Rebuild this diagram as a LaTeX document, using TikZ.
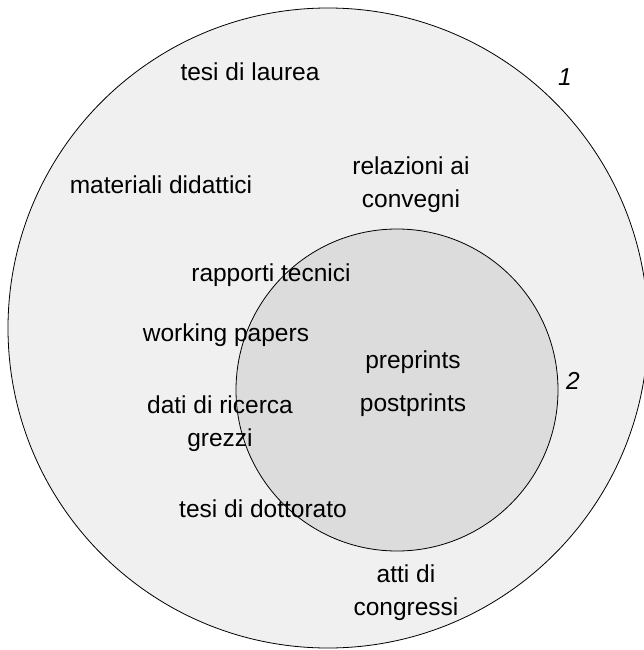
\documentclass[tikz,border=0pt]{standalone}
\usepackage{fontspec}
\setmainfont{Liberation Sans}
\begin{document}
\begin{tikzpicture}[x=1pt,y=-1pt,
  lbl/.style={inner sep=0pt, align=center, font=\fontsize{24.5}{33}\selectfont},
  num/.style={inner sep=0pt, font=\fontsize{24.5}{28}\selectfont\itshape},
  ring/.style={circle, draw=black, line width=0.8pt, inner sep=0pt}]
\useasboundingbox (0,0) rectangle (644,650);
\fill[white] (0,0) rectangle (644,650);
\node[ring, fill={rgb,255:red,240;green,240;blue,240}, minimum size=640] (outer) at (328,328) {};
\node[ring, fill={rgb,255:red,220;green,220;blue,220}, minimum size=322] (inner) at (397,390) {};
\node[lbl] (laurea) at (250,72) {tesi di laurea};
\node[num] (n1) at (565,77) {1};
\node[lbl] (didattici) at (161,185) {materiali didattici};
\node[lbl] (convegni) at (411,185) {relazioni ai\\convegni};
\node[lbl] (tecnici) at (271,275) {rapporti tecnici};
\node[lbl] (working) at (226,335) {working papers};
\node[lbl] (preprints) at (413,362) {preprints};
\node[lbl] (postprints) at (413,405) {postprints};
\node[num] (n2) at (573,381) {2};
\node[lbl] (dati) at (220,423.5) {dati di ricerca\\grezzi};
\node[lbl] (dottorato) at (263,509) {tesi di dottorato};
\node[lbl] (atti) at (406,592.5) {atti di\\congressi};
\end{tikzpicture}
\end{document}
